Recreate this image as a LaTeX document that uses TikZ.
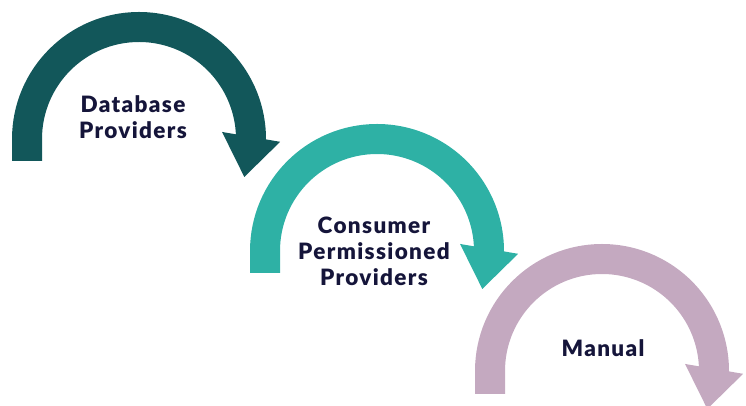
\documentclass[tikz,border=0pt]{standalone}
\usepackage{fontspec}
\setmainfont{Lato}[BoldFont={* Black}]
\usetikzlibrary{arrows.meta,bending}
\definecolor{dbteal}{HTML}{12575A}
\definecolor{cpteal}{HTML}{2EB1A5}
\definecolor{mnmauve}{HTML}{C4A9C0}
\definecolor{labelnavy}{HTML}{15153A}

\begin{document}
\begin{tikzpicture}[x=1pt,y=1pt]
\useasboundingbox (0,0) rectangle (746,406);

\begin{scope}[>={Triangle[length=41pt,width=56pt]},
              every path/.style={line width=30pt}]
    \draw [->,dbteal] (27,245) -- (27,267) arc[start angle=180,end angle=-20,radius=112];
    \draw [->,cpteal] (265,133) -- (265,155) arc[start angle=180,end angle=-20,radius=112];
    \draw [->,mnmauve] (490,12) -- (490,35) arc[start angle=180,end angle=-20,radius=112];
\end{scope}

\begin{scope}[every node/.style={text=labelnavy,align=center,inner sep=0pt,
              font=\bfseries\fontsize{22.5}{26}\selectfont\addfontfeature{LetterSpace=6}}]
    \node (DB) at (133,288.5) {Database\\Providers};
    \node (CP) at (374,155) {Consumer\\Permissioned\\Providers};
    \node (MN) at (603,57.5) {Manual};
\end{scope}
\end{tikzpicture}
\end{document}
